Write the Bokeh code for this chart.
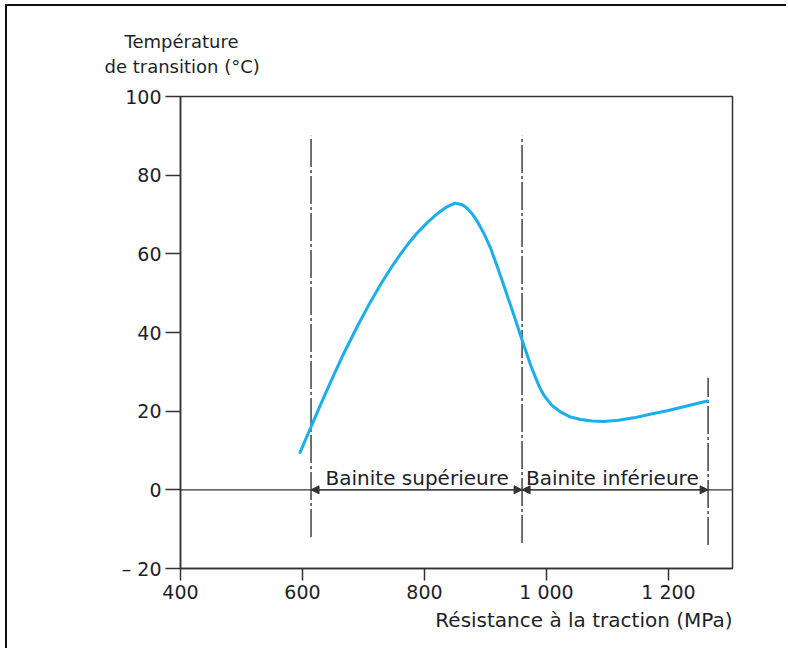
from bokeh.plotting import figure
from bokeh.models import Span, Arrow, NormalHead, Label, FixedTicker, Range1d, Title
from bokeh.embed import file_html
from bokeh.resources import INLINE

# Curve: transition temperature (°C) vs tensile strength (MPa)
strength = [596, 614, 630, 646, 668, 690, 710, 728, 745, 761, 775, 788, 805, 821,
            835, 850, 862, 870, 878, 886, 897, 908, 919, 930, 938, 946, 953, 960,
            967, 974, 982, 989, 996, 1008, 1023, 1038, 1056, 1075, 1094, 1118,
            1143, 1170, 1198, 1230, 1264]
temperature = [9.5, 16.0, 21.8, 27.4, 34.8, 41.6, 47.4, 52.2, 56.4, 60.0, 62.9, 65.3, 68.0, 70.2,
               71.8, 72.9, 72.5, 71.6, 70.2, 68.4, 65.3, 61.6, 56.9, 52.0, 48.3, 44.7, 41.4, 38.1,
               34.9, 31.7, 28.6, 26.0, 24.0, 21.6, 19.8, 18.6, 17.9, 17.5, 17.4, 17.7,
               18.3, 19.2, 20.1, 21.3, 22.6]

# Domain boundaries (dash-dot lines)
bound_x = [614, 960, 1265]
bound_top = [90, 90, 28.5]
bound_bottom = [-12, -13.5, -14]

domain_names = ["Bainite supérieure", "Bainite inférieure"]
domain_label_x = [788, 1108]

x_ticks = [400, 600, 800, 1000, 1200]
x_tick_labels = ["400", "600", "800", "1 000", "1 200"]
y_ticks = [-20, 0, 20, 40, 60, 80, 100]
y_tick_labels = ["– 20", "0", "20", "40", "60", "80", "100"]

INK = "#333333"
TXT = "#1e1e28"
FONT = "DejaVu Sans"

p = figure(width=781, height=644, output_backend="svg", toolbar_location=None,
           x_range=Range1d(400, 1305), y_range=Range1d(-20, 100),
           min_border_left=173, min_border_right=56, min_border_top=90, min_border_bottom=82)
p.styles = {"border-top": "2px solid #111", "border-left": "2px solid #111",
            "margin-left": "5px", "margin-top": "4px"}
p.xgrid.visible = False
p.ygrid.visible = False
p.background_fill_color = "white"
p.border_fill_color = "white"
p.outline_line_color = INK
p.outline_line_width = 1.5

for ax in (p.xaxis[0], p.yaxis[0]):
    ax.axis_line_color = INK
    ax.axis_line_width = 1.5
    ax.major_tick_line_color = INK
    ax.major_tick_line_width = 1.5
    ax.minor_tick_line_color = None
    ax.major_tick_in = 0
    ax.major_label_text_font = FONT
    ax.major_label_text_font_size = "19px"
    ax.major_label_text_color = TXT

p.xaxis.ticker = FixedTicker(ticks=x_ticks)
p.xaxis.major_label_overrides = dict(zip(x_ticks, x_tick_labels))
p.xaxis.major_tick_out = 12
p.xaxis.major_label_standoff = 0
p.yaxis.ticker = FixedTicker(ticks=y_ticks)
p.yaxis.major_label_overrides = dict(zip(y_ticks, y_tick_labels))
p.yaxis.major_tick_out = 15
p.yaxis.major_label_standoff = 4

# zero line
p.add_layout(Span(location=0, dimension="width", line_color=INK, line_width=1.3))

# boundaries
p.segment(x0=bound_x, y0=bound_bottom, x1=bound_x, y1=bound_top,
          line_color=INK, line_width=1.4, line_dash="28 3 3 3")

# dimension arrows
for i in range(2):
    p.add_layout(Arrow(x_start=bound_x[i], x_end=bound_x[i + 1], y_start=0, y_end=0,
                       line_color=INK, line_width=1,
                       start=NormalHead(size=8, fill_color=INK, line_color=INK),
                       end=NormalHead(size=8, fill_color=INK, line_color=INK)))
    p.add_layout(Label(x=domain_label_x[i], y=3.0, text=domain_names[i],
                       text_align="center", text_baseline="alphabetic",
                       text_font=FONT, text_font_size="20px", text_color=TXT))

# curve
p.line(strength, temperature, line_color="#1aaeea", line_width=3, line_join="round", line_cap="round")

# axis titles
t2 = Title(text="de transition (°C)", align="left", offset=-76, standoff=40,
           text_font=FONT, text_font_size="18px", text_font_style="normal", text_color=TXT)
t1 = Title(text="Température", align="left", offset=-56, standoff=-37,
           text_font=FONT, text_font_size="18px", text_font_style="normal", text_color=TXT)
p.add_layout(t2, "above")
p.add_layout(t1, "above")
tx = Title(text="Résistance à la traction (MPa)", align="right", offset=0, standoff=1,
           text_font=FONT, text_font_size="20px", text_font_style="normal", text_color=TXT)
p.add_layout(tx, "below")

open("out.html", "w").write(file_html(p, INLINE))
